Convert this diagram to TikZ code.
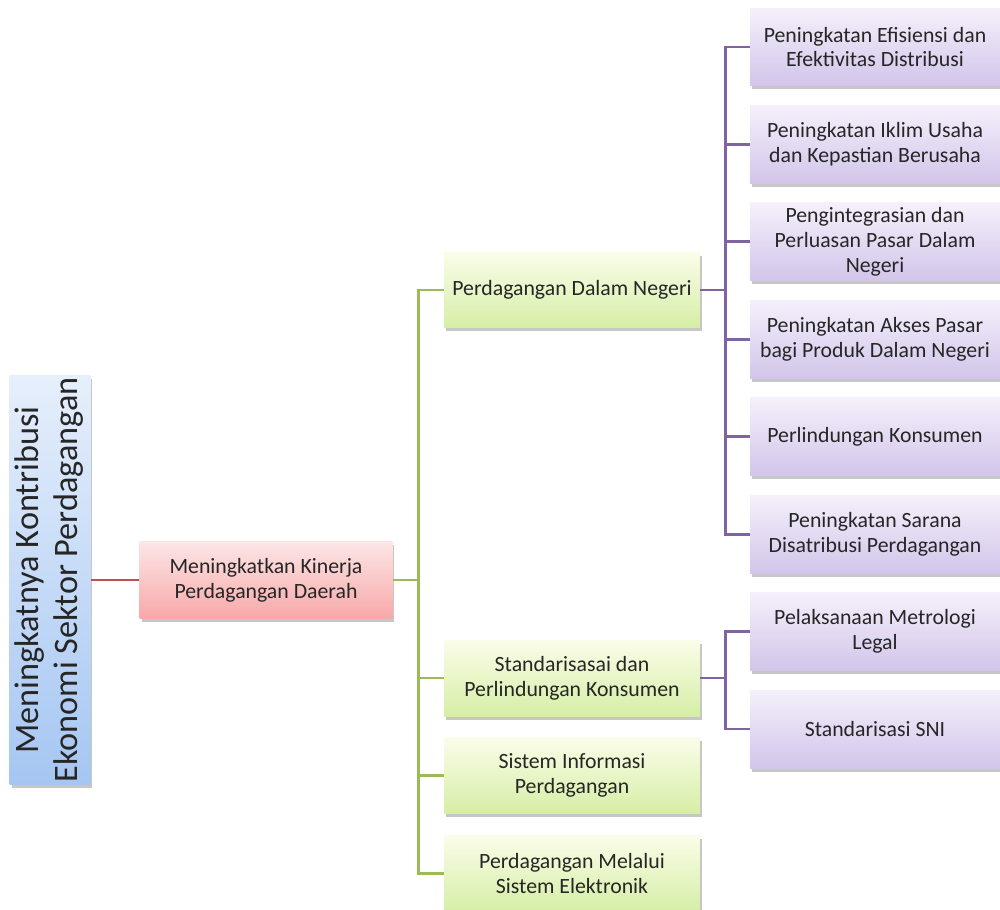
\documentclass[tikz,border=0pt]{standalone}
\usepackage{fontspec}
\setmainfont{Carlito}
\usetikzlibrary{positioning, shadows}
\definecolor{bluetop}{HTML}{E6EFFC}
\definecolor{bluebot}{HTML}{A5C6F2}
\definecolor{redtop}{HTML}{FDE6E6}
\definecolor{redbot}{HTML}{F7A8A8}
\definecolor{greentop}{HTML}{FAFDE9}
\definecolor{greenbot}{HTML}{D6EEA6}
\definecolor{purptop}{HTML}{F5F0FB}
\definecolor{purpbot}{HTML}{D2C5EA}
\definecolor{redln}{HTML}{C0504D}
\definecolor{greenln}{HTML}{9BBB59}
\definecolor{purpln}{HTML}{8064A2}

\begin{document}
\begin{tikzpicture}[x=0.02cm, y=-0.02cm,
  font=\fontsize{12.4}{14.2}\selectfont, text=black!85, node distance=0.375cm,
  box/.style={align=center, inner sep=1pt,
              drop shadow={shadow xshift=0.04cm, shadow yshift=-0.07cm,
                           fill=black, opacity=0.22}},
  rootbox/.style={box, minimum width=1.52cm, minimum height=8.12cm,
                  top color=bluetop, bottom color=bluebot},
  redbox/.style={box, minimum width=5.06cm, minimum height=1.54cm,
                 top color=redtop, bottom color=redbot},
  gbox/.style={box, minimum width=5.12cm, minimum height=1.52cm,
               top color=greentop, bottom color=greenbot},
  pbox/.style={box, minimum width=5cm, minimum height=1.56cm,
               top color=purptop, bottom color=purpbot},
  rline/.style={draw=redln, line width=1.6pt},
  gline/.style={draw=greenln, line width=1.6pt},
  pline/.style={draw=purpln, line width=1.6pt}]
\useasboundingbox (0,0) rectangle (1000,909);
\node[rootbox] (root) at (50,580) {\rotatebox{90}{\fontsize{19.5}{22}\selectfont
  \begin{tabular}{@{}c@{}}Meningkatnya Kontribusi\\ Ekonomi Sektor Perdagangan\end{tabular}}};
\node[redbox] (kinerja) at (266,580) {Meningkatkan Kinerja\\ Perdagangan Daerah};
\node[gbox] (dn) at (572,290) {Perdagangan Dalam Negeri};
\node[gbox] (std) at (572,678) {Standarisasai dan\\ Perlindungan Konsumen};
\node[gbox, below=0.42cm of std] (sip) {Sistem Informasi\\ Perdagangan};
\node[gbox, below=0.42cm of sip] (ele) {Perdagangan Melalui\\ Sistem Elektronik};
\node[pbox] (p1) at (875,47) {Peningkatan Efisiensi dan\\ Efektivitas Distribusi};
\node[pbox, below=of p1] (p2) {Peningkatan Iklim Usaha\\ dan Kepastian Berusaha};
\node[pbox, below=of p2] (p3) {Pengintegrasian dan\\ Perluasan Pasar Dalam\\ Negeri};
\node[pbox, below=of p3] (p4) {Peningkatan Akses Pasar\\ bagi Produk Dalam Negeri};
\node[pbox, below=of p4] (p5) {Perlindungan Konsumen};
\node[pbox, below=of p5] (p6) {Peningkatan Sarana\\ Disatribusi Perdagangan};
\node[pbox, below=of p6] (p7) {Pelaksanaan Metrologi\\ Legal};
\node[pbox, below=of p7] (p8) {Standarisasi SNI};
\coordinate[right=0.52cm of kinerja] (gfork);
\coordinate[right=0.5cm of dn] (pfork1);
\coordinate[right=0.5cm of std] (pfork2);
\draw[rline] (root) -- (kinerja);
\draw[gline] (kinerja) -- (gfork) |- (dn);
\foreach \n in {std, sip, ele}
  \draw[gline] (gfork) |- (\n);
\draw[pline] (dn) -- (pfork1);
\foreach \n in {p1, p2, p3, p4, p5, p6}
  \draw[pline] (pfork1) |- (\n);
\draw[pline] (std) -- (pfork2);
\foreach \n in {p7, p8}
  \draw[pline] (pfork2) |- (\n);
\end{tikzpicture}
\end{document}
